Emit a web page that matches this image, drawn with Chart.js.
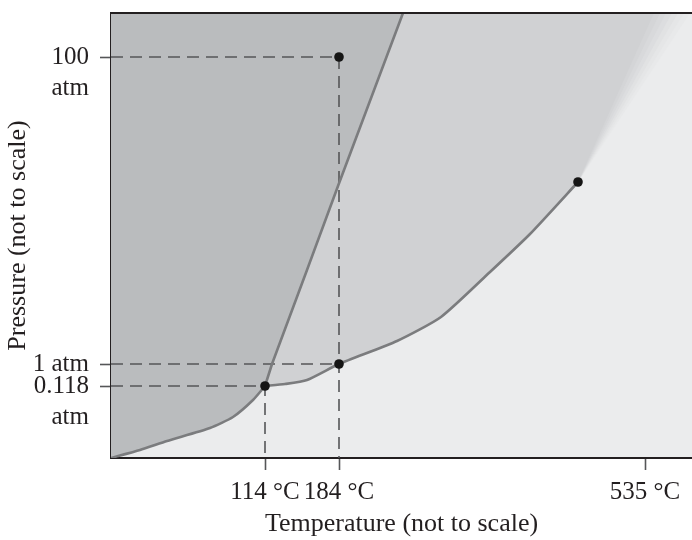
<!DOCTYPE html>
<html><head><meta charset="utf-8">
<script src="https://cdn.jsdelivr.net/npm/chart.js@4.4.0/dist/chart.umd.min.js"></script>
<style>html,body{margin:0;padding:0;background:#fff;}canvas{display:block}</style>
</head><body>
<canvas id="c" width="692" height="540"></canvas>
<script>
// ---- Data (arbitrary "not to scale" units) ----
const xRange = [0, 581];
const yRange = [0, 445];
const tempTickPos = [154, 228, 534];
const tempTickLabels = ['114 °C', '184 °C', '535 °C'];
const presTickPos = [72, 94, 401];
const presTickLabels = [['', '0.118', 'atm'], '1 atm', ['', '100', 'atm']];

const sublimationCurve = [[0,0],[29,8],[56,17],[99,30],[122,41],[142,58],[154,72]];
const meltingCurve = [[154,72],[161,94],[196,188],[227,272],[292,445]];
const vaporCurve = [[154,72],[174,74],[196,78],[228,94],[286,117],[330,141],[379,186],[419,224],[467,276]];
const keyPoints = [[154,72],[228,94],[228,401],[467,276]];
const supercriticalTopX = [579, 573, 567, 561, 555, 549, 543];

const guide100 = [[0,401],[228,401],[228,0]];
const guide1 = [[0,94],[228,94]];
const guide0118 = [[0,72],[154,72],[154,0]];

// ---- Styles ----
const GAS = '#ebeced', SOLID = '#babcbe';
const LIQ_LAYERS = ['#e8e9ea', '#e5e6e7', '#e1e2e3', '#dcdddf', '#d8d9db', '#d4d5d7', '#d0d1d3'];
const CURVE = '#7b7c7e', DASH = '#555658', INK = '#231f20';
const FONT = '"Liberation Serif", "DejaVu Serif", serif';

const pts = a => a.map(p => ({x: p[0], y: p[1]}));
const yTop = yRange[1];
const crit = vaporCurve[vaporCurve.length - 1];

const solidPoly = [[xRange[0], yTop], [meltingCurve[meltingCurve.length-1][0], yTop],
  ...meltingCurve.slice().reverse().slice(1), ...sublimationCurve.slice().reverse().slice(1)];

const datasets = [];
supercriticalTopX.forEach((tx, i) => {
  const poly = [...meltingCurve, [tx, yTop], crit, ...vaporCurve.slice().reverse().slice(1)];
  datasets.push({data: pts(poly), fill: 'shape', backgroundColor: LIQ_LAYERS[i], borderWidth: 0,
    pointRadius: 0, tension: 0, order: 30 - i});
});
datasets.push({data: pts(solidPoly), fill: 'shape', backgroundColor: SOLID, borderWidth: 0,
  pointRadius: 0, tension: 0, order: 10});
[guide100, guide1, guide0118].forEach(g => datasets.push({data: pts(g), borderColor: DASH,
  borderWidth: 1.6, borderDash: [12, 7], pointRadius: 0, fill: false, tension: 0, order: 5}));
[[sublimationCurve, 0.2], [meltingCurve, 0], [vaporCurve, 0.2]].forEach(([c, t]) => datasets.push({data: pts(c),
  borderColor: CURVE, borderWidth: 2.6, pointRadius: 0, fill: false, tension: t, order: 2,
  borderCapStyle: 'round', borderJoinStyle: 'round'}));
datasets.push({data: pts(keyPoints), showLine: false, pointRadius: 4.8, pointBackgroundColor: '#151515',
  pointBorderWidth: 0, order: 0});

const frame = {
  id: 'frame',
  beforeDraw(chart) {
    const {ctx, chartArea: a} = chart;
    ctx.save(); ctx.fillStyle = '#fff'; ctx.fillRect(0, 0, chart.width, chart.height);
    ctx.fillStyle = GAS; ctx.fillRect(a.left, a.top, a.right - a.left, a.bottom - a.top); ctx.restore();
  },
  afterDraw(chart) {
    const {ctx, chartArea: a} = chart;
    ctx.save(); ctx.strokeStyle = INK; ctx.lineWidth = 2;
    ctx.beginPath(); ctx.moveTo(a.left - 1, a.top); ctx.lineTo(a.right, a.top); ctx.stroke(); ctx.restore();
  }
};

new Chart(document.getElementById('c'), {
  type: 'line',
  data: {datasets},
  plugins: [frame],
  options: {
    responsive: false, animation: false, devicePixelRatio: 1,
    layout: {autoPadding: false, padding: {top: 13, left: 0, right: 0, bottom: 0}},
    plugins: {legend: {display: false}, tooltip: {enabled: false}},
    scales: {
      x: {
        type: 'linear', min: xRange[0], max: xRange[1], z: 1,
        afterBuildTicks: s => { s.ticks = tempTickPos.map(v => ({value: v})); },
        afterFit: s => { s.height = 82; s.paddingLeft = 0; s.paddingRight = 0; },
        ticks: {autoSkip: false, maxRotation: 0, padding: 7, color: INK,
          font: {family: FONT, size: 25}, callback: (v, i) => tempTickLabels[i]},
        grid: {drawOnChartArea: false, drawTicks: true, tickLength: 12, tickColor: DASH, tickWidth: 1.6},
        border: {display: true, color: INK, width: 2},
        title: {display: true, text: 'Temperature (not to scale)', color: INK,
          font: {family: FONT, size: 26}, padding: {top: 0, bottom: 0}}
      },
      y: {
        type: 'linear', min: yRange[0], max: yRange[1], z: 1,
        afterBuildTicks: s => { s.ticks = presTickPos.map(v => ({value: v})); },
        afterFit: s => { s.width = 111; s.paddingTop = 0; s.paddingBottom = 0; },
        ticks: {autoSkip: false, padding: 11, color: INK,
          font: {family: FONT, size: 25, lineHeight: 1.26}, callback: (v, i) => presTickLabels[i]},
        grid: {drawOnChartArea: false, drawTicks: true, tickLength: 11, tickColor: DASH, tickWidth: 1.6},
        border: {display: true, color: INK, width: 2},
        title: {display: true, text: 'Pressure (not to scale)', color: INK,
          font: {family: FONT, size: 26}, padding: {top: 3, bottom: 0}}
      }
    }
  }
});
</script>
</body></html>
